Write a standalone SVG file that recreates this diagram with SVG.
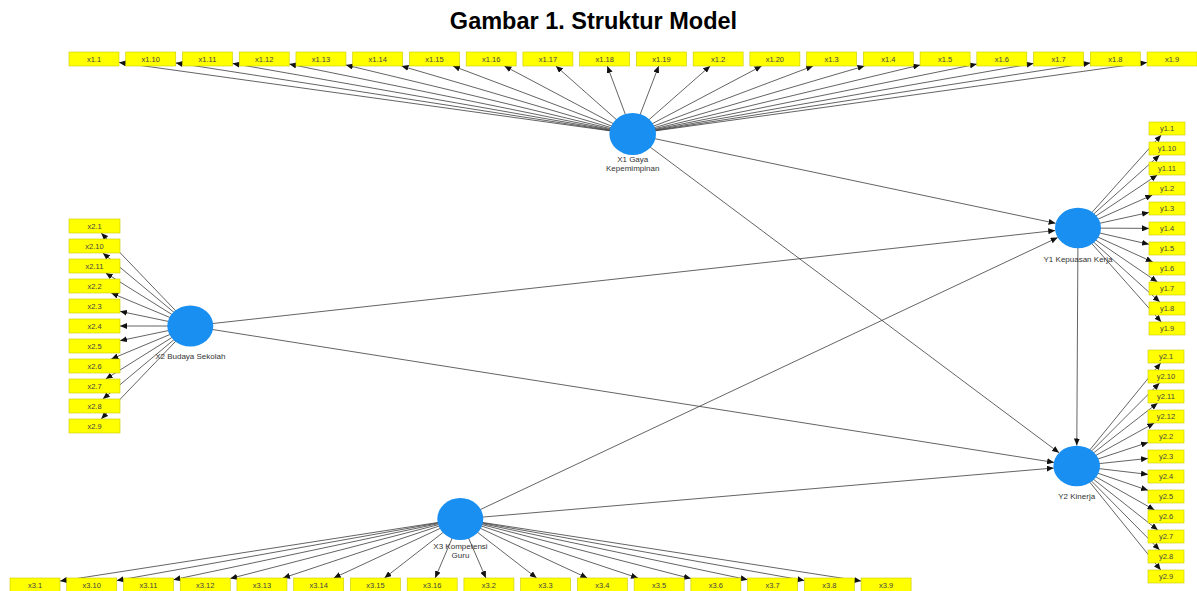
<svg xmlns="http://www.w3.org/2000/svg" width="1197" height="591" viewBox="0 0 1197 591">
<defs>
<marker id="ah" markerUnits="userSpaceOnUse" markerWidth="8" markerHeight="6" refX="7" refY="3" orient="auto">
<path d="M0,0 L7,3 L0,6 z" fill="#111"/>
</marker>
<style>
.c{stroke:#3c3c3c;stroke-width:0.8;fill:none;marker-end:url(#ah)}
.b{fill:#ffff00;stroke:#c9c900;stroke-width:0.6}
.t{font-family:"Liberation Sans",Arial,sans-serif;font-size:7.5px;fill:#444;text-anchor:middle}
.lv{fill:#1a8ff2}
.lt{font-family:"Liberation Sans",Arial,sans-serif;font-size:8px;fill:#333;text-anchor:middle}
.title{font-family:"Liberation Sans",Arial,sans-serif;font-size:23.5px;font-weight:bold;fill:#000;text-anchor:middle}
</style>
</defs>
<rect width="1197" height="591" fill="#fff"/>
<text class="title" x="593.5" y="29">Gambar 1. Struktur Model</text>

<g id="connectors">
<!-- X1 indicators -->
<line class="c" x1="632.7" y1="134" x2="119" y2="62.48"/>
<line class="c" x1="632.7" y1="134" x2="175.74" y2="62.89"/>
<line class="c" x1="632.7" y1="134" x2="232.48" y2="63.41"/>
<line class="c" x1="632.7" y1="134" x2="289.22" y2="64.09"/>
<line class="c" x1="632.7" y1="134" x2="345.96" y2="65.01"/>
<line class="c" x1="632.7" y1="134" x2="401.5" y2="66"/>
<line class="c" x1="632.7" y1="134" x2="452.94" y2="66"/>
<line class="c" x1="632.7" y1="134" x2="504.39" y2="66"/>
<line class="c" x1="632.7" y1="134" x2="555.83" y2="66"/>
<line class="c" x1="632.7" y1="134" x2="607.28" y2="66"/>
<line class="c" x1="632.7" y1="134" x2="658.72" y2="66"/>
<line class="c" x1="632.7" y1="134" x2="710.17" y2="66"/>
<line class="c" x1="632.7" y1="134" x2="761.61" y2="66"/>
<line class="c" x1="632.7" y1="134" x2="813.06" y2="66"/>
<line class="c" x1="632.7" y1="134" x2="864.51" y2="66"/>
<line class="c" x1="632.7" y1="134" x2="920.1" y2="65"/>
<line class="c" x1="632.7" y1="134" x2="976.84" y2="64.08"/>
<line class="c" x1="632.7" y1="134" x2="1033.58" y2="63.4"/>
<line class="c" x1="632.7" y1="134" x2="1090.32" y2="62.89"/>
<line class="c" x1="632.7" y1="134" x2="1147.06" y2="62.48"/>
<!-- X2 indicators -->
<line class="c" x1="190.3" y1="326" x2="101.2" y2="233"/>
<line class="c" x1="190.3" y1="326" x2="102.88" y2="253"/>
<line class="c" x1="190.3" y1="326" x2="105.68" y2="273"/>
<line class="c" x1="190.3" y1="326" x2="111.26" y2="293"/>
<line class="c" x1="190.3" y1="326" x2="120" y2="311.32"/>
<line class="c" x1="190.3" y1="326" x2="120" y2="326"/>
<line class="c" x1="190.3" y1="326" x2="120" y2="340.68"/>
<line class="c" x1="190.3" y1="326" x2="111.26" y2="359"/>
<line class="c" x1="190.3" y1="326" x2="105.68" y2="379"/>
<line class="c" x1="190.3" y1="326" x2="102.88" y2="399"/>
<line class="c" x1="190.3" y1="326" x2="101.2" y2="419"/>
<!-- X3 indicators -->
<line class="c" x1="460.3" y1="519" x2="60" y2="581.12"/>
<line class="c" x1="460.3" y1="519" x2="116.74" y2="580.52"/>
<line class="c" x1="460.3" y1="519" x2="173.48" y2="579.71"/>
<line class="c" x1="460.3" y1="519" x2="230.22" y2="578.53"/>
<line class="c" x1="460.3" y1="519" x2="283" y2="578"/>
<line class="c" x1="460.3" y1="519" x2="333.72" y2="578"/>
<line class="c" x1="460.3" y1="519" x2="384.44" y2="578"/>
<line class="c" x1="460.3" y1="519" x2="435.16" y2="578"/>
<line class="c" x1="460.3" y1="519" x2="485.88" y2="578"/>
<line class="c" x1="460.3" y1="519" x2="536.6" y2="578"/>
<line class="c" x1="460.3" y1="519" x2="587.32" y2="578"/>
<line class="c" x1="460.3" y1="519" x2="638.04" y2="578"/>
<line class="c" x1="460.3" y1="519" x2="690.88" y2="578.54"/>
<line class="c" x1="460.3" y1="519" x2="747.62" y2="579.72"/>
<line class="c" x1="460.3" y1="519" x2="804.36" y2="580.53"/>
<line class="c" x1="460.3" y1="519" x2="861.1" y2="581.12"/>
<!-- Y1 indicators -->
<line class="c" x1="1078" y1="228" x2="1161.19" y2="135"/>
<line class="c" x1="1078" y1="228" x2="1159.72" y2="155"/>
<line class="c" x1="1078" y1="228" x2="1157.28" y2="175"/>
<line class="c" x1="1078" y1="228" x2="1152.35" y2="195"/>
<line class="c" x1="1078" y1="228" x2="1149" y2="212.44"/>
<line class="c" x1="1078" y1="228" x2="1149" y2="228.4"/>
<line class="c" x1="1078" y1="228" x2="1149" y2="244.35"/>
<line class="c" x1="1078" y1="228" x2="1152.72" y2="262"/>
<line class="c" x1="1078" y1="228" x2="1157.44" y2="282"/>
<line class="c" x1="1078" y1="228" x2="1159.81" y2="302"/>
<line class="c" x1="1078" y1="228" x2="1161.24" y2="322"/>
<!-- Y2 indicators -->
<line class="c" x1="1076.7" y1="466" x2="1160.7" y2="363"/>
<line class="c" x1="1076.7" y1="466" x2="1159.51" y2="383"/>
<line class="c" x1="1076.7" y1="466" x2="1157.65" y2="403"/>
<line class="c" x1="1076.7" y1="466" x2="1154.27" y2="423"/>
<line class="c" x1="1076.7" y1="466" x2="1148" y2="442.45"/>
<line class="c" x1="1076.7" y1="466" x2="1148" y2="458.42"/>
<line class="c" x1="1076.7" y1="466" x2="1148" y2="474.38"/>
<line class="c" x1="1076.7" y1="466" x2="1148" y2="490.35"/>
<line class="c" x1="1076.7" y1="466" x2="1154.51" y2="510"/>
<line class="c" x1="1076.7" y1="466" x2="1157.77" y2="530"/>
<line class="c" x1="1076.7" y1="466" x2="1159.59" y2="550"/>
<line class="c" x1="1076.7" y1="466" x2="1160.75" y2="570"/>
<!-- structural -->
<line class="c" x1="632.7" y1="134" x2="1055.6" y2="223.3"/>
<line class="c" x1="632.7" y1="134" x2="1059.1" y2="452.8"/>
<line class="c" x1="190.3" y1="326" x2="1055.2" y2="230.5"/>
<line class="c" x1="190.3" y1="326" x2="1054.1" y2="462.4"/>
<line class="c" x1="460.3" y1="519" x2="1057.7" y2="237.6"/>
<line class="c" x1="460.3" y1="519" x2="1053.8" y2="468"/>
<line class="c" x1="1078" y1="228" x2="1076.8" y2="445.5"/>
</g>

<!-- Latent variables -->
<g id="X1"><ellipse class="lv" cx="632.7" cy="134" rx="23.3" ry="21"/><text class="lt" x="632.7" y="162">X1 Gaya</text><text class="lt" x="632.7" y="171">Kepemimpinan</text></g>
<g id="X2"><ellipse class="lv" cx="190.3" cy="326" rx="23" ry="20.5"/><text class="lt" x="190.3" y="359">X2 Budaya Sekolah</text></g>
<g id="X3"><ellipse class="lv" cx="460.3" cy="519" rx="23" ry="21"/><text class="lt" x="460.5" y="549">X3 Kompetensi</text><text class="lt" x="460.5" y="558">Guru</text></g>
<g id="Y1"><ellipse class="lv" cx="1078" cy="228" rx="23" ry="20.3"/><text class="lt" x="1078" y="262">Y1 Kepuasan Kerja</text></g>
<g id="Y2"><ellipse class="lv" cx="1076.7" cy="466" rx="23.3" ry="20.3"/><text class="lt" x="1076.7" y="499">Y2 Kinerja</text></g>

<!-- X1 indicators -->
<g id="x1_1"><rect class="b" x="69" y="52" width="50" height="14"/><text class="t" x="94" y="61.7">x1.1</text></g>
<g id="x1_10"><rect class="b" x="125.74" y="52" width="50" height="14"/><text class="t" x="150.74" y="61.7">x1.10</text></g>
<g id="x1_11"><rect class="b" x="182.48" y="52" width="50" height="14"/><text class="t" x="207.48" y="61.7">x1.11</text></g>
<g id="x1_12"><rect class="b" x="239.22" y="52" width="50" height="14"/><text class="t" x="264.22" y="61.7">x1.12</text></g>
<g id="x1_13"><rect class="b" x="295.96" y="52" width="50" height="14"/><text class="t" x="320.96" y="61.7">x1.13</text></g>
<g id="x1_14"><rect class="b" x="352.7" y="52" width="50" height="14"/><text class="t" x="377.7" y="61.7">x1.14</text></g>
<g id="x1_15"><rect class="b" x="409.44" y="52" width="50" height="14"/><text class="t" x="434.44" y="61.7">x1.15</text></g>
<g id="x1_16"><rect class="b" x="466.18" y="52" width="50" height="14"/><text class="t" x="491.18" y="61.7">x1.16</text></g>
<g id="x1_17"><rect class="b" x="522.92" y="52" width="50" height="14"/><text class="t" x="547.92" y="61.7">x1.17</text></g>
<g id="x1_18"><rect class="b" x="579.66" y="52" width="50" height="14"/><text class="t" x="604.66" y="61.7">x1.18</text></g>
<g id="x1_19"><rect class="b" x="636.4" y="52" width="50" height="14"/><text class="t" x="661.4" y="61.7">x1.19</text></g>
<g id="x1_2"><rect class="b" x="693.14" y="52" width="50" height="14"/><text class="t" x="718.14" y="61.7">x1.2</text></g>
<g id="x1_20"><rect class="b" x="749.88" y="52" width="50" height="14"/><text class="t" x="774.88" y="61.7">x1.20</text></g>
<g id="x1_3"><rect class="b" x="806.62" y="52" width="50" height="14"/><text class="t" x="831.62" y="61.7">x1.3</text></g>
<g id="x1_4"><rect class="b" x="863.36" y="52" width="50" height="14"/><text class="t" x="888.36" y="61.7">x1.4</text></g>
<g id="x1_5"><rect class="b" x="920.1" y="52" width="50" height="14"/><text class="t" x="945.1" y="61.7">x1.5</text></g>
<g id="x1_6"><rect class="b" x="976.84" y="52" width="50" height="14"/><text class="t" x="1001.84" y="61.7">x1.6</text></g>
<g id="x1_7"><rect class="b" x="1033.58" y="52" width="50" height="14"/><text class="t" x="1058.58" y="61.7">x1.7</text></g>
<g id="x1_8"><rect class="b" x="1090.32" y="52" width="50" height="14"/><text class="t" x="1115.32" y="61.7">x1.8</text></g>
<g id="x1_9"><rect class="b" x="1147.06" y="52" width="50" height="14"/><text class="t" x="1172.06" y="61.7">x1.9</text></g>

<!-- X2 indicators -->
<g id="x2_1"><rect class="b" x="69" y="219" width="51" height="14"/><text class="t" x="94.5" y="228.7">x2.1</text></g>
<g id="x2_10"><rect class="b" x="69" y="239" width="51" height="14"/><text class="t" x="94.5" y="248.7">x2.10</text></g>
<g id="x2_11"><rect class="b" x="69" y="259" width="51" height="14"/><text class="t" x="94.5" y="268.7">x2.11</text></g>
<g id="x2_2"><rect class="b" x="69" y="279" width="51" height="14"/><text class="t" x="94.5" y="288.7">x2.2</text></g>
<g id="x2_3"><rect class="b" x="69" y="299" width="51" height="14"/><text class="t" x="94.5" y="308.7">x2.3</text></g>
<g id="x2_4"><rect class="b" x="69" y="319" width="51" height="14"/><text class="t" x="94.5" y="328.7">x2.4</text></g>
<g id="x2_5"><rect class="b" x="69" y="339" width="51" height="14"/><text class="t" x="94.5" y="348.7">x2.5</text></g>
<g id="x2_6"><rect class="b" x="69" y="359" width="51" height="14"/><text class="t" x="94.5" y="368.7">x2.6</text></g>
<g id="x2_7"><rect class="b" x="69" y="379" width="51" height="14"/><text class="t" x="94.5" y="388.7">x2.7</text></g>
<g id="x2_8"><rect class="b" x="69" y="399" width="51" height="14"/><text class="t" x="94.5" y="408.7">x2.8</text></g>
<g id="x2_9"><rect class="b" x="69" y="419" width="51" height="14"/><text class="t" x="94.5" y="428.7">x2.9</text></g>

<!-- X3 indicators -->
<g id="x3_1"><rect class="b" x="10" y="578" width="50" height="14"/><text class="t" x="35" y="587.7">x3.1</text></g>
<g id="x3_10"><rect class="b" x="66.74" y="578" width="50" height="14"/><text class="t" x="91.74" y="587.7">x3.10</text></g>
<g id="x3_11"><rect class="b" x="123.48" y="578" width="50" height="14"/><text class="t" x="148.48" y="587.7">x3.11</text></g>
<g id="x3_12"><rect class="b" x="180.22" y="578" width="50" height="14"/><text class="t" x="205.22" y="587.7">x3.12</text></g>
<g id="x3_13"><rect class="b" x="236.96" y="578" width="50" height="14"/><text class="t" x="261.96" y="587.7">x3.13</text></g>
<g id="x3_14"><rect class="b" x="293.7" y="578" width="50" height="14"/><text class="t" x="318.7" y="587.7">x3.14</text></g>
<g id="x3_15"><rect class="b" x="350.44" y="578" width="50" height="14"/><text class="t" x="375.44" y="587.7">x3.15</text></g>
<g id="x3_16"><rect class="b" x="407.18" y="578" width="50" height="14"/><text class="t" x="432.18" y="587.7">x3.16</text></g>
<g id="x3_2"><rect class="b" x="463.92" y="578" width="50" height="14"/><text class="t" x="488.92" y="587.7">x3.2</text></g>
<g id="x3_3"><rect class="b" x="520.66" y="578" width="50" height="14"/><text class="t" x="545.66" y="587.7">x3.3</text></g>
<g id="x3_4"><rect class="b" x="577.4" y="578" width="50" height="14"/><text class="t" x="602.4" y="587.7">x3.4</text></g>
<g id="x3_5"><rect class="b" x="634.14" y="578" width="50" height="14"/><text class="t" x="659.14" y="587.7">x3.5</text></g>
<g id="x3_6"><rect class="b" x="690.88" y="578" width="50" height="14"/><text class="t" x="715.88" y="587.7">x3.6</text></g>
<g id="x3_7"><rect class="b" x="747.62" y="578" width="50" height="14"/><text class="t" x="772.62" y="587.7">x3.7</text></g>
<g id="x3_8"><rect class="b" x="804.36" y="578" width="50" height="14"/><text class="t" x="829.36" y="587.7">x3.8</text></g>
<g id="x3_9"><rect class="b" x="861.1" y="578" width="50" height="14"/><text class="t" x="886.1" y="587.7">x3.9</text></g>

<!-- Y1 indicators -->
<g id="y1_1"><rect class="b" x="1149" y="122" width="36" height="13"/><text class="t" x="1167" y="131.2">y1.1</text></g>
<g id="y1_10"><rect class="b" x="1149" y="142" width="36" height="13"/><text class="t" x="1167" y="151.2">y1.10</text></g>
<g id="y1_11"><rect class="b" x="1149" y="162" width="36" height="13"/><text class="t" x="1167" y="171.2">y1.11</text></g>
<g id="y1_2"><rect class="b" x="1149" y="182" width="36" height="13"/><text class="t" x="1167" y="191.2">y1.2</text></g>
<g id="y1_3"><rect class="b" x="1149" y="202" width="36" height="13"/><text class="t" x="1167" y="211.2">y1.3</text></g>
<g id="y1_4"><rect class="b" x="1149" y="222" width="36" height="13"/><text class="t" x="1167" y="231.2">y1.4</text></g>
<g id="y1_5"><rect class="b" x="1149" y="242" width="36" height="13"/><text class="t" x="1167" y="251.2">y1.5</text></g>
<g id="y1_6"><rect class="b" x="1149" y="262" width="36" height="13"/><text class="t" x="1167" y="271.2">y1.6</text></g>
<g id="y1_7"><rect class="b" x="1149" y="282" width="36" height="13"/><text class="t" x="1167" y="291.2">y1.7</text></g>
<g id="y1_8"><rect class="b" x="1149" y="302" width="36" height="13"/><text class="t" x="1167" y="311.2">y1.8</text></g>
<g id="y1_9"><rect class="b" x="1149" y="322" width="36" height="13"/><text class="t" x="1167" y="331.2">y1.9</text></g>

<!-- Y2 indicators -->
<g id="y2_1"><rect class="b" x="1148" y="350" width="36" height="13"/><text class="t" x="1166" y="359.2">y2.1</text></g>
<g id="y2_10"><rect class="b" x="1148" y="370" width="36" height="13"/><text class="t" x="1166" y="379.2">y2.10</text></g>
<g id="y2_11"><rect class="b" x="1148" y="390" width="36" height="13"/><text class="t" x="1166" y="399.2">y2.11</text></g>
<g id="y2_12"><rect class="b" x="1148" y="410" width="36" height="13"/><text class="t" x="1166" y="419.2">y2.12</text></g>
<g id="y2_2"><rect class="b" x="1148" y="430" width="36" height="13"/><text class="t" x="1166" y="439.2">y2.2</text></g>
<g id="y2_3"><rect class="b" x="1148" y="450" width="36" height="13"/><text class="t" x="1166" y="459.2">y2.3</text></g>
<g id="y2_4"><rect class="b" x="1148" y="470" width="36" height="13"/><text class="t" x="1166" y="479.2">y2.4</text></g>
<g id="y2_5"><rect class="b" x="1148" y="490" width="36" height="13"/><text class="t" x="1166" y="499.2">y2.5</text></g>
<g id="y2_6"><rect class="b" x="1148" y="510" width="36" height="13"/><text class="t" x="1166" y="519.2">y2.6</text></g>
<g id="y2_7"><rect class="b" x="1148" y="530" width="36" height="13"/><text class="t" x="1166" y="539.2">y2.7</text></g>
<g id="y2_8"><rect class="b" x="1148" y="550" width="36" height="13"/><text class="t" x="1166" y="559.2">y2.8</text></g>
<g id="y2_9"><rect class="b" x="1148" y="570" width="36" height="13"/><text class="t" x="1166" y="579.2">y2.9</text></g>
</svg>
